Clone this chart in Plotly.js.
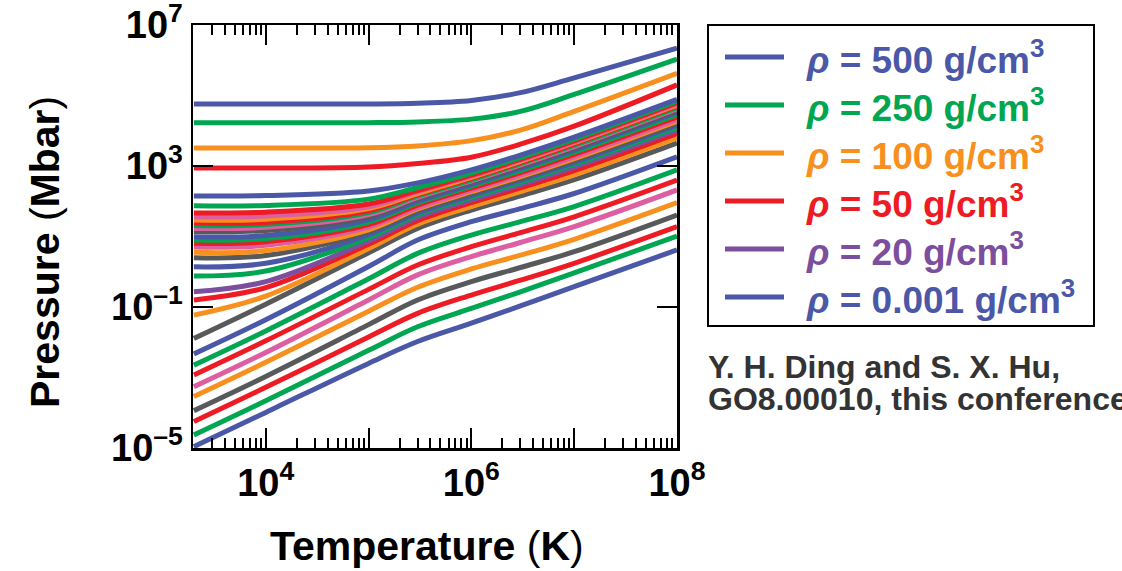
<!DOCTYPE html>
<html>
<head>
<meta charset="utf-8">
<script src="https://cdn.plot.ly/plotly-3.0.1.min.js"></script>
<style>
  html, body { margin: 0; padding: 0; background: #fff; }
  #chart { width: 1122px; height: 571px; }
</style>
</head>
<body>
<div id="chart"></div>
<script>
// Temperature grid (K) shared by every constant-density curve
const temperatureK = [2e3, 1e4, 1e5, 3e5, 1e6, 3e6, 1e7, 1e8];

// log10 pressure (Mbar) along each curve, lowest density first
const lowDensityLogP = [
  [-4.96, -3.99, -2.60, -1.98, -1.46, -0.97, -0.42, 0.62],
  [-4.63, -3.66, -2.23, -1.56, -1.04, -0.57, -0.03, 1.01],
  [-4.25, -3.28, -1.85, -1.18, -0.66, -0.24, 0.24, 1.28],
  [-3.94, -2.97, -1.50, -0.80, -0.28, 0.12, 0.57, 1.61],
  [-3.54, -2.57, -1.12, -0.44, 0.08, 0.47, 0.92, 1.96],
  [-3.26, -2.29, -0.80, -0.09, 0.43, 0.83, 1.28, 2.32],
  [-2.93, -1.96, -0.50, 0.19, 0.71, 1.11, 1.56, 2.60],
  [-2.65, -1.68, -0.20, 0.52, 1.04, 1.42, 1.85, 2.89],
  [-2.33, -1.36, 0.15, 0.90, 1.42, 1.79, 2.22, 3.26],
  [-1.89, -0.92, 0.54, 1.23, 1.75, 2.15, 2.61, 3.65]
];
const lowDensityColors = ['blue', 'green', 'red', 'gray', 'orange', 'pink', 'red', 'green', 'blue', 'gray'];

const midDensityLogP = [
  [-1.23, -0.69, 0.66, 1.35, 1.85, 2.27, 2.75, 3.80],
  [-0.80, -0.45, 0.78, 1.45, 1.96, 2.38, 2.87, 3.92],
  [-0.57, -0.28, 0.87, 1.54, 2.04, 2.47, 2.97, 4.02],
  [-0.12, 0.02, 0.97, 1.62, 2.11, 2.54, 3.05, 4.10],
  [0.14, 0.24, 1.05, 1.67, 2.16, 2.60, 3.10, 4.16],
  [0.40, 0.46, 1.13, 1.73, 2.22, 2.65, 3.16, 4.22],
  [0.55, 0.60, 1.19, 1.78, 2.27, 2.70, 3.21, 4.27],
  [0.70, 0.75, 1.27, 1.82, 2.31, 2.74, 3.26, 4.32],
  [0.81, 0.85, 1.34, 1.89, 2.37, 2.81, 3.33, 4.39],
  [0.90, 0.94, 1.41, 1.95, 2.43, 2.87, 3.39, 4.46],
  [0.99, 1.03, 1.48, 2.00, 2.48, 2.93, 3.45, 4.52],
  [1.14, 1.17, 1.56, 2.07, 2.54, 2.98, 3.50, 4.57],
  [1.23, 1.26, 1.62, 2.11, 2.58, 3.03, 3.55, 4.62],
  [1.31, 1.34, 1.68, 2.15, 2.61, 3.07, 3.59, 4.66],
  [1.38, 1.40, 1.73, 2.19, 2.65, 3.10, 3.63, 4.70],
  [1.47, 1.49, 1.79, 2.22, 2.68, 3.13, 3.66, 4.73],
  [1.56, 1.58, 1.84, 2.27, 2.71, 3.16, 3.68, 4.76],
  [1.67, 1.69, 1.92, 2.30, 2.74, 3.19, 3.71, 4.79],
  [1.87, 1.88, 2.06, 2.39, 2.80, 3.24, 3.76, 4.84],
  [2.15, 2.16, 2.29, 2.52, 2.89, 3.31, 3.82, 4.89]
];
const midDensityColors = ['orange', 'red', 'purple', 'green', 'blue', 'gray', 'orange', 'pink', 'red', 'green',
                          'blue', 'gray', 'pink', 'green', 'red', 'orange', 'pink', 'red', 'green', 'blue'];

// 50, 100, 250 and 500 g/cm3
const highDensityLogP = [
  [2.94, 2.94, 2.97, 3.07, 3.25, 3.62, 4.13, 5.30],
  [3.51, 3.51, 3.52, 3.57, 3.72, 4.02, 4.55, 5.63],
  [4.23, 4.23, 4.23, 4.25, 4.33, 4.55, 5.03, 6.03],
  [4.76, 4.76, 4.76, 4.78, 4.86, 5.08, 5.50, 6.34]
];
const highDensityColors = ['red', 'orange', 'green', 'blue'];

// Legend entries
const legendLabels = ['500', '250', '100', '50', '20', '0.001'];
const legendColors = ['blue', 'green', 'orange', 'red', 'purple', 'blue'];

// Axis ticks
const xLabelValues = [1e4, 1e6, 1e8];
const xLabelText = ['10<sup>4</sup>', '10<sup>6</sup>', '10<sup>8</sup>'];
const xUnlabeledDecades = [1e5, 1e7];
const yTickValues = [1e-5, 1e-1, 1e3, 1e7];
const yTickText = ['10<sup>–5</sup>', '10<sup>–1</sup>', '10<sup>3</sup>', '10<sup>7</sup>'];

const palette = {
  blue: '#4A58A7',
  green: '#00A651',
  orange: '#F7901E',
  red: '#ED1C24',
  pink: '#DD5FA2',
  gray: '#58595B',
  purple: '#7B4F9D'
};

const FONT = 'Liberation Sans, Arial, Helvetica, sans-serif';

const traces = [];
function addCurves(rows, colors) {
  rows.forEach((row, i) => {
    traces.push({
      x: temperatureK,
      y: row.map(v => Math.pow(10, v)),
      type: 'scatter',
      mode: 'lines',
      line: { color: palette[colors[i]], width: 5, shape: 'spline', smoothing: 1 },
      hoverinfo: 'skip',
      showlegend: false
    });
  });
}
addCurves(lowDensityLogP, lowDensityColors);
addCurves(midDensityLogP, midDensityColors);
addCurves(highDensityLogP, highDensityColors);

// Empty traces that carry the extra tick axes
['x2', 'x3'].forEach(ax => {
  traces.push({ x: [null], y: [null], xaxis: ax, yaxis: 'y', mode: 'lines', hoverinfo: 'skip', showlegend: false });
});

// Minor tick positions 2..9 x 10^n inside the temperature range
const minorTicks = [];
for (let e = 3; e < 8; e++) {
  for (let m = 2; m <= 9; m++) {
    const v = m * Math.pow(10, e);
    if (v > 1960) minorTicks.push(v);
  }
}

const xRange = [Math.log10(1960), 8];

const axisCommon = {
  showline: true,
  linecolor: '#000',
  linewidth: 2.5,
  mirror: 'ticks',
  ticks: 'inside',
  tickcolor: '#000',
  tickwidth: 2,
  showgrid: false,
  zeroline: false,
  fixedrange: true,
  ticklabeloverflow: 'allow'
};
const tickFont = { family: FONT, size: 38, color: '#000', weight: 'bold' };

// Plot area in pixels: x 193..677, y 25..448
const plotLeft = 193, plotRight = 677, plotTop = 25, plotBottom = 448;
const px = v => (v - plotLeft) / (plotRight - plotLeft);
const py = v => (plotBottom - v) / (plotBottom - plotTop);

const shapes = [];
const annotations = [];

// Legend frame
shapes.push({
  type: 'rect', xref: 'paper', yref: 'paper',
  x0: px(708), x1: px(1094), y0: py(326), y1: py(25),
  line: { color: '#000', width: 2 }, fillcolor: 'rgba(0,0,0,0)'
});
const rowCenters = [57, 105, 153, 201, 249, 297];
legendLabels.forEach((lab, i) => {
  const c = palette[legendColors[i]];
  shapes.push({
    type: 'line', xref: 'paper', yref: 'paper',
    x0: px(725), x1: px(784), y0: py(rowCenters[i]), y1: py(rowCenters[i]),
    line: { color: c, width: 5 }
  });
  annotations.push({
    xref: 'paper', yref: 'paper', x: px(804), y: py(rowCenters[i]),
    xanchor: 'left', yanchor: 'middle', showarrow: false,
    text: '<i>ρ</i>\u00a0= ' + lab + ' g/cm<sup>3</sup>',
    font: { family: FONT, size: 37, color: c, weight: 'bold' }
  });
});

// Attribution
annotations.push({
  xref: 'paper', yref: 'paper', x: px(706), y: py(367), xanchor: 'left', yanchor: 'middle',
  showarrow: false, text: 'Y. H. Ding and S. X. Hu,',
  font: { family: FONT, size: 32, color: '#333333', weight: 'bold' }
});
annotations.push({
  xref: 'paper', yref: 'paper', x: px(706), y: py(399), xanchor: 'left', yanchor: 'middle',
  showarrow: false, text: 'GO8.00010, this conference',
  font: { family: FONT, size: 32, color: '#333333', weight: 'bold' }
});

// Axis titles
annotations.push({
  xref: 'paper', yref: 'paper', x: px(427), y: py(546), xanchor: 'center', yanchor: 'middle',
  showarrow: false, text: '<b>Temperature </b>(<b>K</b>)',
  font: { family: FONT, size: 41, color: '#000' }
});
annotations.push({
  xref: 'paper', yref: 'paper', x: px(45), y: py(252), xanchor: 'center', yanchor: 'middle',
  showarrow: false, textangle: -90, text: '<b>Pressure </b>(<b>Mbar</b>)',
  font: { family: FONT, size: 41, color: '#000' }
});

const layout = {
  width: 1122,
  height: 571,
  margin: { l: plotLeft, r: 1122 - plotRight, t: plotTop, b: 571 - plotBottom },
  paper_bgcolor: '#fff',
  plot_bgcolor: '#fff',
  showlegend: false,
  xaxis: Object.assign({}, axisCommon, {
    type: 'log', range: xRange,
    tickmode: 'array', tickvals: xLabelValues, ticktext: xLabelText, ticklen: 20,
    tickfont: tickFont
  }),
  xaxis2: Object.assign({}, axisCommon, {
    type: 'log', range: xRange, overlaying: 'x', anchor: 'y', side: 'bottom',
    tickmode: 'array', tickvals: xUnlabeledDecades, ticklen: 20, showticklabels: false
  }),
  xaxis3: Object.assign({}, axisCommon, {
    type: 'log', range: xRange, overlaying: 'x', anchor: 'y', side: 'bottom',
    tickmode: 'array', tickvals: minorTicks, ticklen: 10, showticklabels: false
  }),
  yaxis: Object.assign({}, axisCommon, {
    type: 'log', range: [-5, 7],
    tickmode: 'array', tickvals: yTickValues, ticktext: yTickText, ticklen: 20,
    tickfont: tickFont
  }),
  shapes: shapes,
  annotations: annotations
};

Plotly.newPlot('chart', traces, layout, { displayModeBar: false, staticPlot: true });
</script>
</body>
</html>
